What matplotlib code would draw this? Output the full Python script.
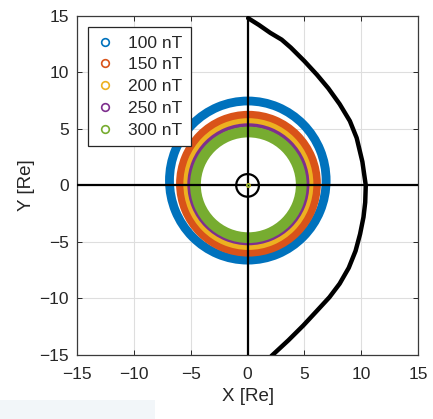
import numpy as np
import matplotlib.pyplot as plt
from matplotlib.patches import Annulus, Circle, Rectangle
from matplotlib.lines import Line2D

plt.rcParams['font.family'] = ['Liberation Sans', 'DejaVu Sans']

# Поля и параметры колец (центр, полуоси внешнего края, толщина), Re
fields = ['100 nT', '150 nT', '200 nT', '250 nT', '300 nT']
colors = ['#0072BD', '#D95319', '#EDB120', '#7E2F8E', '#77AC30']
ring_x0 = [0.02, 0.08, 0.07, 0.07, 0.07]
ring_y0 = [0.43, 0.15, 0.12, 0.10, 0.05]
ring_a = [7.28, 6.37, 5.72, 5.37, 5.13]
ring_b = [7.43, 6.45, 5.83, 5.40, 5.15]
ring_w = [0.78, 0.80, 0.50, 0.35, 0.95]

# Граница (магнитопауза), Re
bound_x = [0.05, 1.0, 2.0, 3.0, 3.8, 5.0, 6.1, 7.1, 8.1, 9.0, 9.6, 10.1, 10.4,
           10.35, 10.2, 9.9, 9.5, 8.9, 8.1, 7.2, 6.1, 4.9, 3.6, 2.1]
bound_y = [14.8, 14.2, 13.5, 12.9, 12.2, 11.0, 9.8, 8.6, 7.2, 5.7, 4.2, 2.1, 0.0,
           -1.5, -2.8, -4.3, -5.8, -7.3, -8.7, -9.9, -11.1, -12.4, -13.7, -15.1]

earth_r = 1.0
ticks = [-15, -10, -5, 0, 5, 10, 15]

fig = plt.figure(figsize=(4.33, 4.19), dpi=100)
ax = fig.add_axes([0.178, 0.153, 0.7875, 0.809])

for i in range(len(fields)):
    ring = Annulus((ring_x0[i], ring_y0[i]), (ring_a[i], ring_b[i]), ring_w[i],
                   facecolor=colors[i], edgecolor='none', zorder=2)
    ax.add_patch(ring)

# Оси через начало координат
ax.axhline(0, color='k', lw=1.6, zorder=3)
ax.axvline(0, color='k', lw=1.6, zorder=3)

# Земля
ax.plot(0, 0, 'o', mfc='none', mec=colors[2], ms=2.5, mew=1, zorder=3)
ax.plot(0, 0, 'o', mfc='none', mec=colors[4], ms=2, mew=1, zorder=3)
ax.add_patch(Circle((0, 0), earth_r, fill=False, ec='k', lw=1.6, zorder=4))

ax.plot(bound_x, bound_y, color='k', lw=3.2, solid_capstyle='round',
        solid_joinstyle='round', zorder=4)

ax.set_xlim(-15, 15)
ax.set_ylim(-15, 15)
ax.set_xticks(ticks)
ax.set_yticks(ticks)
ax.grid(True, color='#dedede', lw=0.8)
ax.set_axisbelow(True)
ax.tick_params(direction='in', length=3.5, width=0.7, top=True, right=True,
               labelsize=12.5, colors='#262626')
ax.tick_params(axis='x', pad=9)
ax.tick_params(axis='y', pad=6)
for s in ax.spines.values():
    s.set_color('#3a3a3a')
    s.set_linewidth(0.9)

ax.set_xlabel('X [Re]', fontsize=13.5, color='#262626', labelpad=4)
ax.set_ylabel('Y [Re]', fontsize=13.5, color='#262626', labelpad=3)

handles = [Line2D([], [], ls='none', marker='o', mfc='none', mec=c, mew=1.2, ms=5.5)
           for c in colors]
leg = ax.legend(handles, fields, loc='upper left', bbox_to_anchor=(0.032, 0.968),
                borderaxespad=0, fontsize=12.5, handlelength=1.0, handletextpad=0.8,
                labelspacing=0.38, borderpad=0.5, fancybox=False, framealpha=1)
leg.get_frame().set_edgecolor('#262626')
leg.get_frame().set_linewidth(0.9)
for t in leg.get_texts():
    t.set_color('#262626')

# светлая плашка внизу слева
fig.patches.append(Rectangle((0, 0), 155 / 433, 19 / 419, transform=fig.transFigure,
                             facecolor='#f2f6f9', edgecolor='none', zorder=0))

fig.savefig('out.png', dpi=100)
